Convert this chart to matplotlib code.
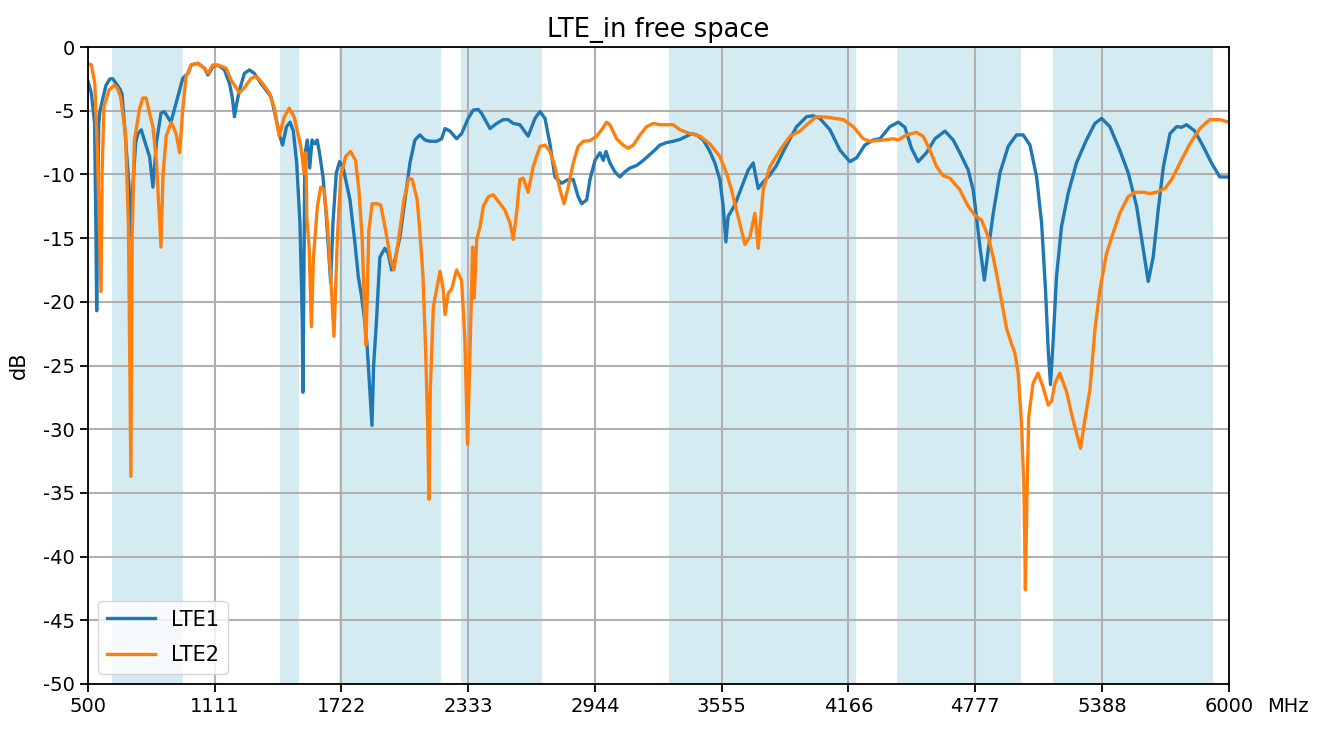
import matplotlib
matplotlib.use('Agg')
import matplotlib.pyplot as plt

plt.rcParams['axes.unicode_minus'] = False

# LTE bands to shade (MHz)
bands = [(617, 960), (1427, 1518), (1710, 2200), (2300, 2690),
         (3300, 4200), (4400, 5000), (5150, 5925)]

# LTE1 return loss
lte1_freq = [500, 516, 532, 538, 542, 547, 552, 558, 572, 587, 606, 620, 633, 654, 664,
             678, 698, 707, 716, 730, 741, 757, 781, 797, 813, 830, 852, 868, 900, 933, 957,
             982, 998, 1030, 1062, 1078, 1102, 1126, 1158, 1182, 1196, 1206, 1216, 1230,
             1254, 1278, 1302, 1334, 1382, 1401, 1425, 1438, 1457, 1474, 1490, 1506, 1522,
             1533, 1536, 1540, 1545, 1557, 1569, 1580, 1593, 1605, 1616, 1633, 1649, 1662,
             1670, 1681, 1697, 1713, 1729, 1763, 1787, 1803, 1819, 1830, 1845, 1869, 1877,
             1890, 1907, 1931, 1947, 1964, 1980, 2004, 2028, 2052, 2076, 2100, 2124, 2149,
             2181, 2205, 2221, 2245, 2277, 2301, 2333, 2357, 2381, 2397, 2438, 2470, 2502,
             2526, 2550, 2582, 2622, 2655, 2679, 2703, 2727, 2751, 2783, 2815, 2839, 2863,
             2880, 2904, 2920, 2944, 2968, 2984, 2997, 3016, 3040, 3064, 3088, 3113, 3145,
             3177, 3225, 3257, 3289, 3321, 3354, 3386, 3410, 3434, 3466, 3498, 3522, 3546,
             3562, 3575, 3586, 3618, 3651, 3683, 3707, 3715, 3731, 3755, 3787, 3819, 3852,
             3884, 3916, 3932, 3964, 3996, 4028, 4077, 4125, 4173, 4205, 4245, 4285, 4318,
             4366, 4406, 4438, 4470, 4502, 4542, 4583, 4631, 4671, 4703, 4743, 4767, 4783,
             4800, 4821, 4840, 4864, 4896, 4936, 4976, 5008, 5041, 5073, 5097, 5116, 5129,
             5140, 5153, 5169, 5193, 5225, 5265, 5313, 5354, 5386, 5426, 5474, 5515, 5555,
             5587, 5611, 5635, 5659, 5684, 5716, 5748, 5772, 5796, 5836, 5876, 5916, 5956,
             6000]
lte1_db = [-2.7, -3.6, -6.0, -14.0, -20.7, -12.0, -6.0, -5.0, -4.0, -3.0, -2.5, -2.5, -2.8,
           -3.3, -3.7, -6.5, -11.0, -15.0, -11.0, -7.5, -6.8, -6.5, -7.8, -8.6, -11.0, -7.5,
           -5.2, -5.07, -5.9, -3.9, -2.46, -2.07, -1.41, -1.28, -1.67, -2.2, -1.54, -1.41,
           -1.8, -2.85, -4.0, -5.47, -4.5, -3.4, -2.07, -1.8, -2.07, -2.85, -3.9, -5.2, -7.0,
           -7.7, -6.25, -5.9, -6.6, -9.1, -13.8, -21.7, -27.1, -20.0, -8.6, -7.3, -9.5, -7.3,
           -7.6, -7.3, -8.3, -10.2, -13.3, -16.5, -18.5, -13.8, -9.9, -9.0, -9.4, -12.0,
           -15.4, -18.0, -19.6, -21.0, -23.3, -29.7, -25.0, -21.7, -16.5, -15.8, -16.2,
           -17.5, -16.7, -14.9, -12.0, -9.1, -7.3, -6.9, -7.3, -7.4, -7.4, -7.2, -6.4, -6.6,
           -7.2, -6.8, -5.6, -4.95, -4.9, -5.2, -6.4, -6.0, -5.7, -5.7, -6.0, -6.1, -7.0,
           -5.6, -5.07, -5.6, -7.6, -10.2, -10.7, -10.4, -10.4, -11.75, -12.3, -12.0, -10.4,
           -8.9, -8.3, -8.9, -8.2, -9.1, -9.8, -10.2, -9.8, -9.5, -9.3, -8.9, -8.2, -7.7,
           -7.5, -7.4, -7.25, -7.0, -6.8, -6.9, -7.3, -8.2, -9.1, -10.4, -12.5, -15.3, -13.3,
           -12.4, -11.0, -9.65, -9.1, -9.8, -11.1, -10.6, -10.05, -9.3, -8.2, -7.2, -6.25,
           -6.0, -5.47, -5.4, -5.6, -6.5, -8.1, -9.0, -8.7, -7.7, -7.3, -7.2, -6.25, -5.9,
           -6.3, -7.95, -9.0, -8.3, -7.2, -6.6, -7.3, -8.3, -9.65, -11.2, -13.3, -15.7,
           -18.3, -15.9, -13.05, -9.9, -7.8, -6.9, -6.9, -7.7, -10.2, -13.8, -19.1, -23.8,
           -26.5, -23.0, -18.0, -14.1, -11.5, -9.1, -7.3, -6.0, -5.6, -6.25, -8.1, -9.9,
           -12.5, -15.9, -18.4, -16.5, -12.8, -9.4, -6.8, -6.25, -6.3, -6.1, -6.6, -7.8,
           -9.1, -10.2, -10.2]

# LTE2 return loss
lte2_freq = [500, 516, 533, 545, 563, 568, 577, 601, 625, 641, 657, 681, 695, 707, 713, 724,
             748, 764, 780, 797, 813, 830, 852, 862, 877, 901, 925, 942, 957, 973, 998, 1030,
             1062, 1078, 1102, 1142, 1166, 1190, 1214, 1230, 1254, 1286, 1310, 1334, 1374,
             1398, 1422, 1446, 1470, 1494, 1526, 1542, 1550, 1555, 1566, 1577, 1587, 1606,
             1622, 1638, 1654, 1670, 1686, 1702, 1718, 1742, 1766, 1790, 1806, 1822, 1835,
             1840, 1854, 1870, 1894, 1911, 1935, 1959, 1975, 1999, 2023, 2047, 2063, 2087,
             2100, 2115, 2128, 2138, 2144, 2150, 2165, 2197, 2212, 2221, 2237, 2253, 2277,
             2301, 2317, 2330, 2340, 2354, 2362, 2374, 2390, 2406, 2430, 2454, 2486, 2510,
             2534, 2550, 2566, 2582, 2598, 2622, 2646, 2679, 2703, 2727, 2751, 2775, 2795,
             2815, 2839, 2863, 2888, 2920, 2952, 2976, 3000, 3016, 3048, 3080, 3104, 3129,
             3161, 3193, 3225, 3257, 3289, 3321, 3354, 3402, 3450, 3498, 3546, 3578, 3602,
             3634, 3667, 3691, 3715, 3731, 3755, 3787, 3836, 3884, 3932, 3972, 4012, 4060,
             4141, 4189, 4237, 4269, 4334, 4382, 4406, 4446, 4494, 4526, 4559, 4591, 4623,
             4655, 4703, 4743, 4775, 4808, 4840, 4864, 4888, 4928, 4952, 4968, 4984, 5000,
             5012, 5019, 5027, 5035, 5056, 5080, 5104, 5129, 5145, 5161, 5185, 5217, 5241,
             5265, 5285, 5305, 5330, 5354, 5378, 5410, 5442, 5474, 5514, 5547, 5587, 5619,
             5651, 5692, 5724, 5764, 5812, 5860, 5908, 5956, 6000]
lte2_db = [-1.3, -1.4, -2.85, -8.0, -19.2, -10.0, -4.7, -3.4, -3.0, -3.2, -3.9, -6.8, -14.0,
           -33.7, -15.0, -7.3, -4.9, -4.0, -4.0, -5.2, -6.25, -9.0, -15.7, -10.0, -7.0, -5.9,
           -6.8, -8.3, -4.9, -2.3, -1.4, -1.28, -1.67, -2.07, -1.41, -1.5, -1.67, -2.6, -3.2,
           -3.6, -3.2, -2.46, -2.3, -2.7, -3.6, -4.8, -7.0, -5.5, -4.8, -5.5, -7.8, -9.9, -8.3,
           -13.3, -15.7, -21.95, -16.5, -12.5, -11.0, -11.2, -13.8, -18.0, -22.7, -15.1,
           -10.2, -8.6, -8.2, -8.9, -11.2, -15.1, -21.7, -23.4, -14.4, -12.3, -12.3, -12.4,
           -14.4, -16.7, -17.5, -14.9, -12.0, -10.3, -10.4, -12.0, -14.5, -18.0, -24.0,
           -30.0, -35.5, -27.0, -20.4, -17.6, -19.0, -21.0, -19.3, -19.0, -17.5, -18.3,
           -23.0, -31.2, -25.0, -15.7, -19.7, -15.1, -14.1, -12.5, -11.75, -11.6, -12.3,
           -12.8, -13.8, -15.1, -13.05, -10.4, -10.3, -11.4, -9.4, -7.8, -7.7, -8.2, -9.4,
           -11.2, -12.3, -11.0, -9.1, -7.8, -7.4, -7.35, -7.0, -6.5, -5.9, -6.1, -7.2, -7.7,
           -7.95, -7.7, -6.9, -6.25, -6.0, -6.1, -6.1, -6.1, -6.5, -6.8, -7.0, -7.6, -8.6,
           -9.9, -11.2, -13.3, -15.5, -14.9, -13.05, -15.8, -11.2, -9.4, -8.1, -7.0, -6.6,
           -6.0, -5.47, -5.5, -5.7, -6.25, -7.2, -7.4, -7.3, -7.2, -7.3, -6.9, -6.7, -7.0,
           -8.1, -9.4, -10.1, -10.3, -11.2, -12.5, -13.2, -13.6, -14.9, -16.5, -18.5, -22.1,
           -23.3, -24.0, -25.6, -29.5, -34.8, -42.6, -34.8, -29.0, -26.4, -25.6, -26.7,
           -28.1, -27.8, -26.4, -25.6, -27.05, -28.75, -30.3, -31.5, -29.3, -26.9, -22.2,
           -19.1, -16.2, -14.6, -13.05, -11.75, -11.4, -11.4, -11.5, -11.4, -11.1, -10.4,
           -9.1, -7.6, -6.4, -5.7, -5.7, -5.9]

xticks = [500, 1111, 1722, 2333, 2944, 3555, 4166, 4777, 5388, 6000]
yticks = list(range(-50, 1, 5))

fig = plt.figure(figsize=(13.19, 7.31), dpi=100)
ax = fig.add_axes([0.0667, 0.0643, 0.865, 0.8714])

for lo, hi in bands:
    ax.axvspan(lo, hi, color='lightblue', alpha=0.5, lw=0)

ax.plot(lte1_freq, lte1_db, color='#1f77b4', lw=2.4, label='LTE1')
ax.plot(lte2_freq, lte2_db, color='#ff7f0e', lw=2.4, label='LTE2')

ax.set_xlim(500, 6000)
ax.set_ylim(-50, 0)
ax.set_xticks(xticks)
ax.set_yticks(yticks)
ax.tick_params(labelsize=14, length=6, width=1.3)
ax.grid(True, color='#b0b0b0', lw=1.5)
for s in ax.spines.values():
    s.set_linewidth(1.3)
ax.set_ylabel('dB', fontsize=15, labelpad=10)
ax.set_title('LTE_in free space', fontsize=18.5, pad=7)
fig.text(1267 / 1319, 1 - 697 / 731, 'MHz', fontsize=14, ha='left', va='top')
ax.legend(loc='lower left', fontsize=15, labelspacing=0.75, handlelength=2.3)

fig.savefig('out.png', dpi=100)
